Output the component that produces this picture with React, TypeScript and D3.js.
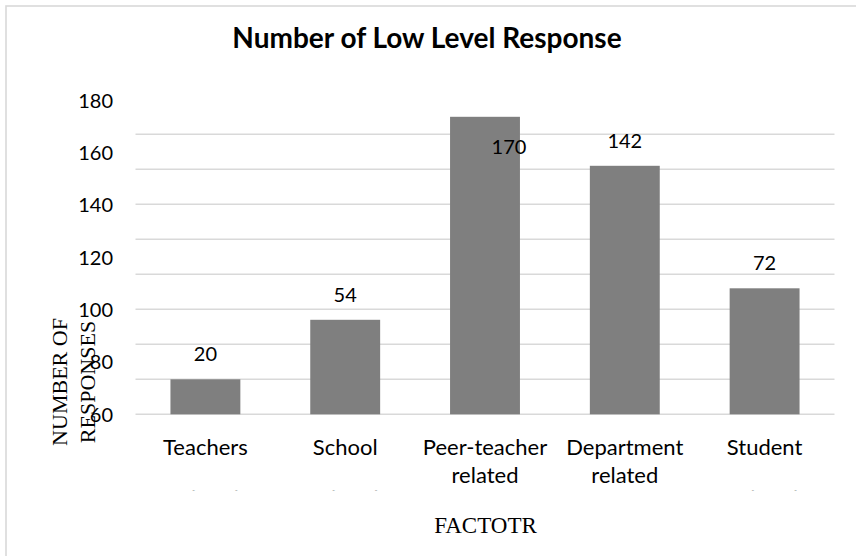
import React from "react";
import * as d3 from "d3";

const categories = ["Teachers", "School", "Peer-teacher", "Department", "Student"];
// label lines per category; the third line is clipped in the original
const categoryLines = [
  ["Teachers", "", "related"],
  ["School", "", "related"],
  ["Peer-teacher", "related"],
  ["Department", "related"],
  ["Student", "", "related"],
];
const responses = [20, 54, 170, 142, 72];
const gridTicks = [0, 20, 40, 60, 80, 100, 120, 140, 160];
const tickLabels = [60, 80, 100, 120, 140, 160, 180];

const W = 856;
const H = 556;
const plot = { left: 135.5, right: 834.5, top: 134.3, bottom: 414.3 };
const sans = "Lato, 'Open Sans', sans-serif";
const serif = "'Liberation Serif', 'DejaVu Serif', serif";

const App = () => {
  const x = d3
    .scaleBand()
    .domain(categories)
    .range([plot.left, plot.right])
    .paddingInner(0.5)
    .paddingOuter(0.25);

  const y = d3.scaleLinear().domain([0, 160]).range([plot.bottom, plot.top]);

  // the tick labels sit on their own (mismatched) scale, as in the original
  const yLabel = d3.scaleLinear().domain([60, 180]).range([414.3, 100.7]);

  return (
    <svg
      width={W}
      height={H}
      style={{ position: "absolute", left: 0, top: 0, background: "#fff" }}
    >
      <defs>
        <clipPath id="labelClip">
          <rect x={0} y={0} width={W} height={490.3} />
        </clipPath>
      </defs>
      <rect x={0} y={0} width={W} height={H} fill="#fff" />
      <rect
        x={6}
        y={6}
        width={W + 20}
        height={H + 20}
        fill="none"
        stroke="#d9d9d9"
        strokeWidth={1.6}
      />

      <text
        x={427}
        y={48}
        textAnchor="middle"
        fontFamily={sans}
        fontWeight="bold"
        fontSize={28}
        fill="#000"
      >
        Number of Low Level Response
      </text>

      {gridTicks.map((t) => (
        <line
          key={t}
          x1={plot.left}
          x2={plot.right}
          y1={y(t)}
          y2={y(t)}
          stroke="#d9d9d9"
          strokeWidth={1.5}
        />
      ))}

      {tickLabels.map((t) => (
        <text
          key={t}
          x={113}
          y={yLabel(t)}
          dy="0.36em"
          textAnchor="end"
          fontFamily={sans}
          fontSize={20}
          fill="#000"
        >
          {t}
        </text>
      ))}

      {categories.map((c, i) => (
        <rect
          key={c}
          x={x(c)}
          y={y(responses[i])}
          width={x.bandwidth()}
          height={plot.bottom - y(responses[i])}
          fill="#7f7f7f"
        />
      ))}

      {categories.map((c, i) => {
        const cx = x(c)! + x.bandwidth() / 2;
        const top = y(responses[i]);
        let ly = top - 18;
        let lx = cx;
        // label doesn't fit above the plot: pushed inside the bar
        if (ly < plot.top) {
          ly = top + 37;
          lx = cx + 24;
        }
        return (
          <text
            key={c}
            x={lx}
            y={ly}
            textAnchor="middle"
            fontFamily={sans}
            fontSize={20}
            fill="#000"
          >
            {responses[i]}
          </text>
        );
      })}

      <g clipPath="url(#labelClip)">
        {categories.map((c, i) => {
          const cx = x(c)! + x.bandwidth() / 2;
          return categoryLines[i].map((line, j) => (
            <text
              key={c + j}
              x={cx}
              y={j < 2 ? 455 + j * 28 : 506}
              textAnchor="middle"
              fontFamily={sans}
              fontSize={22}
              fill="#000"
            >
              {line}
            </text>
          ));
        })}
      </g>

      <g transform="translate(66.7,382) rotate(-90)">
        <text textAnchor="middle" fontFamily={serif} fontSize={22} fill="#000">
          NUMBER OF
        </text>
        <text
          y={28.3}
          textAnchor="middle"
          fontFamily={serif}
          fontSize={22}
          fill="#000"
        >
          RESPONSES
        </text>
      </g>

      <text
        x={485.5}
        y={533}
        textAnchor="middle"
        fontFamily={serif}
        fontSize={23}
        fill="#000"
      >
        FACTOTR
      </text>
    </svg>
  );
};

export default App;
